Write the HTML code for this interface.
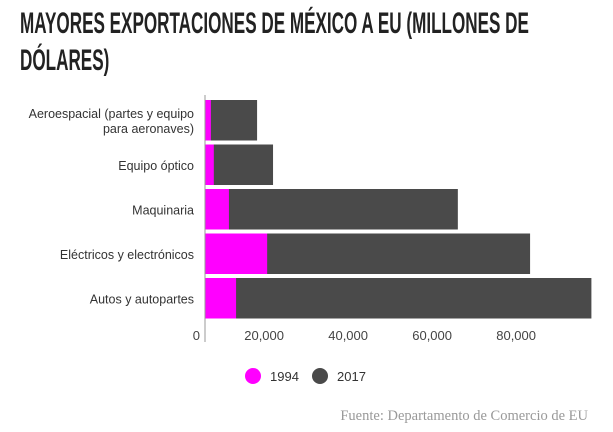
<!DOCTYPE html>
<html><head><meta charset="utf-8"><style>
body{margin:0;width:613px;height:432px;background:#fff;overflow:hidden;font-family:"Liberation Sans",sans-serif}
#title{position:absolute;left:20px;top:5px;white-space:nowrap;font-size:30px;font-weight:bold;line-height:37px;color:#222;transform:scaleX(0.57);transform-origin:0 0}
svg{position:absolute;left:0;top:0}
</style></head><body>
<div id="title">MAYORES EXPORTACIONES DE MÉXICO A EU (MILLONES DE<br>DÓLARES)</div>
<svg width="613" height="432" id="chart"></svg>
<script>
const categories=["Aeroespacial (partes y equipo|para aeronaves)","Equipo óptico","Maquinaria","Eléctricos y electrónicos","Autos y autopartes"];
const values1994=[1400,2100,5700,14800,7400];
const values2017=[12400,16200,60200,77400,92000];
const tickValues=[0,20000,40000,60000,80000];
const tickLabels=["0","20,000","40,000","60,000","80,000"];
const svg=document.getElementById('chart');
const NS='http://www.w3.org/2000/svg';
const x0=205,k=0.0042;
const xs=v=>x0+v*k;
const rowTop=100,rowH=44.5,barH=40.5;
function mk(t,a){const e=document.createElementNS(NS,t);for(const q in a)e.setAttribute(q,a[q]);svg.appendChild(e);return e;}
categories.forEach((c,i)=>{
 const y=rowTop+i*rowH;
 const b2=mk('rect',{x:x0,y:y,width:xs(values2017[i])-x0,height:barH,fill:'#4a4a4a'});
 
 
 const b1=mk('rect',{x:x0,y:y,width:xs(values1994[i])-x0,height:barH,fill:'#ff00ff'});
 
 
 const lines=c.split('|');
 lines.forEach((l,j)=>{
  const t=mk('text',{x:194,y:y+barH/2+5+(j-(lines.length-1)/2)*15,'text-anchor':'end','font-size':'12.5',fill:'#333'});
  t.textContent=l;
  
  
 });
});
const ax=mk('line',{x1:x0,y1:95,x2:x0,y2:342,stroke:'#999','stroke-width':1});


tickValues.forEach((v,i)=>{
 const t=mk('text',{x:xs(v)-5,y:340,'text-anchor':'end','font-size':'13',fill:'#444'});
 t.textContent=tickLabels[i];
 
 
});
[["#ff00ff","1994",253],["#4a4a4a","2017",320]].forEach(([c,l,x])=>{
 const ci=mk('circle',{cx:x,cy:376,r:8,fill:c});
 
 
 const t=mk('text',{x:x+17,y:381,'font-size':'13',fill:'#333'});
 t.textContent=l;
 
 
});
const s=mk('text',{x:588,y:420,'text-anchor':'end','font-size':'14.5','font-family':'Liberation Serif, serif',fill:'#999'});
s.textContent='Fuente: Departamento de Comercio de EU';


</script>
</body></html>
